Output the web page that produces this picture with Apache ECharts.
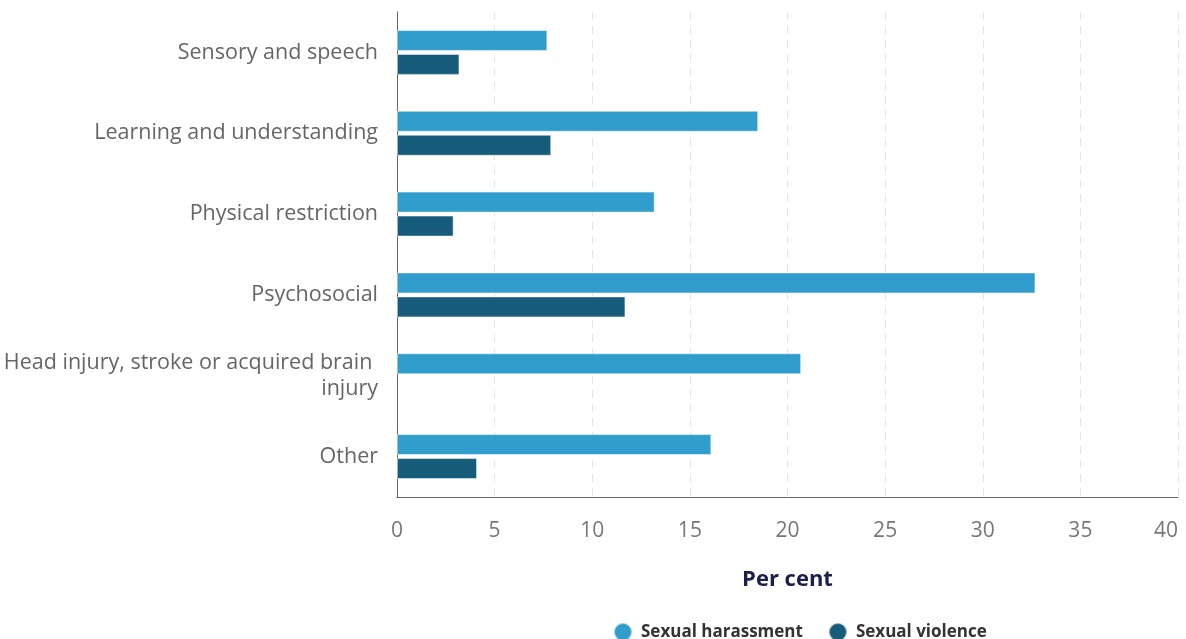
<!DOCTYPE html>
<html><head><meta charset="utf-8">
<script src="https://cdn.jsdelivr.net/npm/echarts@6/dist/echarts.min.js"></script>
<style>html,body{margin:0;padding:0;background:#fff}#c{width:1186px;height:639px}</style>
</head><body><div id="c"></div>
<script>
const categories = ["Sensory and speech","Learning and understanding","Physical restriction","Psychosocial","Head injury, stroke or acquired brain injury","Other"];
const harassment = [7.7, 18.5, 13.2, 32.7, 20.7, 16.1];
const violence = [3.2, 7.9, 2.9, 11.7, null, 4.1];
const seriesNames = ["Sexual harassment","Sexual violence"];
const colors = ["#319DCC","#175C7A"];

const chart = echarts.init(document.getElementById('c'));
const font = "'Open Sans', sans-serif";
chart.setOption({
  animation:false,
  textStyle:{fontFamily:font},
  grid:{left:397,right:8,top:12,bottom:142,containLabel:false,outerBoundsMode:'none'},
  legend:{top:622,left:613,padding:0,icon:'circle',itemWidth:18,itemHeight:18,itemGap:25,
    textStyle:{fontFamily:font,fontWeight:'bold',fontSize:17,color:'#333',padding:[0,0,0,4]},data:seriesNames},
  xAxis:{type:'value',min:0,max:40,interval:5,
    name:'Per cent',nameLocation:'middle',nameGap:72,
    nameTextStyle:{fontFamily:font,fontWeight:'bold',fontSize:22,color:'#1b1f4b'},
    axisLine:{show:true,lineStyle:{color:'#666',width:1}},axisTick:{show:false},
    axisLabel:{fontFamily:font,fontSize:21,color:'#777',margin:24,alignMaxLabel:'right'},
    splitLine:{show:true,lineStyle:{type:[8,6],color:'#e6e6e6',width:1}}},
  yAxis:{type:'category',inverse:true,data:categories,
    axisLine:{show:true,lineStyle:{color:'#666',width:1}},axisTick:{show:false},
    axisLabel:{fontFamily:font,fontSize:21.5,color:'#666',margin:19,width:380,overflow:'break',lineHeight:26}},
  series:[
    {name:seriesNames[0],type:'bar',data:harassment,barWidth:21,barGap:'14%',
     itemStyle:{color:colors[0],borderColor:'rgba(255,255,255,0.5)',borderWidth:1}},
    {name:seriesNames[1],type:'bar',data:violence,barWidth:21,barGap:'14%',
     itemStyle:{color:colors[1],borderColor:'rgba(255,255,255,0.5)',borderWidth:1}}
  ]
});
</script></body></html>
